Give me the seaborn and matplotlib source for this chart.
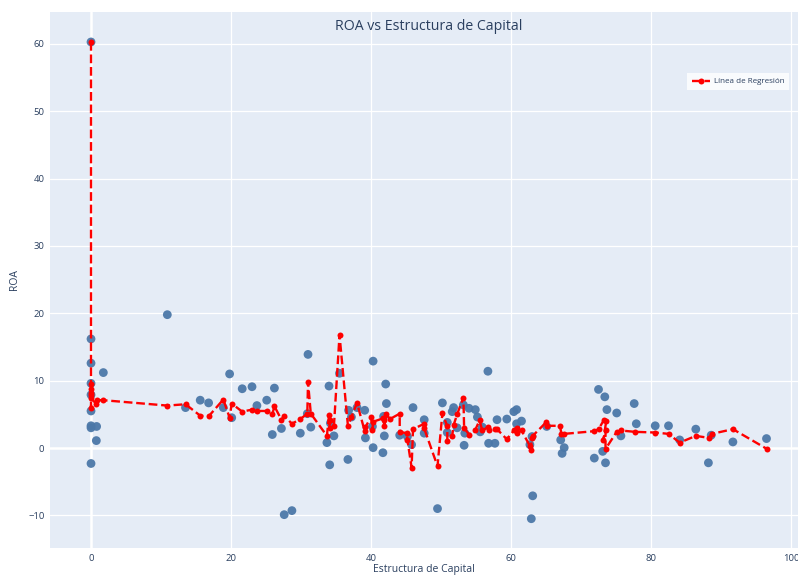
import numpy as np
import pandas as pd
import matplotlib
matplotlib.use("Agg")
import matplotlib.pyplot as plt
import seaborn as sns

# Scatter data (Estructura de Capital, ROA)
cap_pts = [0, 0, 0, 0, 0, 0, 0, 0, 0, 0.8, 0.76, 1.76, 10.9, 13.5, 15.6, 16.8, 18.9, 19.8, 20.1,
           21.6, 23.0, 23.7, 25.1, 26.2, 25.9, 27.2, 27.6, 28.7, 29.9, 31.0, 30.9, 31.4, 33.7, 34.0,
           34.1, 34.2, 34.7, 35.5, 36.7, 36.8, 37.2, 38.0, 39.1, 39.2, 40.3, 40.3, 40.2, 42.1, 42.2,
           41.7, 41.9, 41.8, 44.1, 45.2, 45.8, 46.0, 47.6, 47.6, 49.5, 50.2, 50.9, 50.9, 51.6, 51.8,
           52.3, 53.2, 53.3, 53.4, 54.0, 54.9, 55.2, 55.6, 55.9, 56.7, 56.8, 57.7, 58.0, 59.4, 60.4,
           60.8, 60.8, 61.5, 62.7, 63.1, 62.9, 63.0, 65.1, 67.1, 67.6, 67.3, 71.9, 72.5, 73.4, 73.7,
           73.1, 73.5, 75.1, 75.7, 77.6, 77.9, 80.6, 82.5, 84.1, 86.4, 88.6, 88.2, 91.7, 96.5]
roa_pts = [60.3, 16.2, 12.6, 9.6, 7.9, 5.5, 3.3, 3.0, -2.3, 3.2, 1.1, 11.2, 19.8, 6.0, 7.1, 6.7, 6.0, 11.0, 4.5,
           8.8, 9.1, 6.3, 7.1, 8.9, 2.0, 2.9, -9.9, -9.3, 2.2, 13.9, 5.1, 3.1, 0.8, 9.2,
           -2.5, 3.7, 1.8, 11.1, -1.7, 5.6, 4.6, 6.0, 5.6, 1.5, 12.9, 0.05, 3.2, 9.5, 6.6,
           -0.7, 1.8, 4.7, 1.9, 1.7, 0.5, 6.0, 4.2, 2.2, -9.0, 6.7, 3.8, 2.3, 5.4, 6.0,
           3.0, 6.4, 0.4, 2.2, 5.9, 5.7, 4.6, 2.4, 3.1, 11.4, 0.7, 0.7, 4.2, 4.3, 5.4,
           5.7, 3.6, 4.0, 0.5, -7.1, -10.5, 1.7, 3.2, 1.2, 0.05, -0.8, -1.5, 8.7, 7.6, 5.7,
           -0.5, -2.2, 5.2, 1.8, 6.6, 3.6, 3.3, 3.3, 1.2, 2.8, 1.9, -2.2, 0.9, 1.4]

# Regression line data (in drawing order)
cap_line = [0, 0, 0, 0, 0, 0, 0, 0.7, 0.8, 1.76, 10.9, 13.5, 15.6, 16.8, 18.9, 19.8, 20.1, 21.6, 23.0,
            23.7, 25.1, 25.9, 26.2, 27.2, 27.6, 28.7, 29.9, 30.9, 31.0, 31.4, 33.7, 34.0, 34.1, 34.2,
            34.7, 35.5, 36.7, 37.2, 38.0, 39.1, 39.2, 40.0, 40.2, 40.3, 41.7, 41.8, 41.9, 42.2, 42.7,
            44.1, 44.1, 45.1, 45.2, 45.8, 46.0, 47.6, 47.6, 49.5, 50.2, 50.9, 50.9, 51.6, 51.8, 52.3,
            53.2, 53.3, 54.0, 54.9, 55.5, 55.9, 56.7, 56.8, 57.7, 58.0, 59.4, 60.4, 60.8, 60.8, 61.5,
            62.7, 62.8, 63.0, 63.1, 65.0, 65.2, 67.0, 67.2, 67.6, 71.9, 72.5, 73.3, 73.6, 73.2, 73.5,
            73.5, 75.1, 75.7, 77.7, 80.6, 82.5, 84.1, 86.4, 88.3, 88.7, 91.7, 96.5]
roa_line = [60.3, 9.5, 8.8, 8.2, 7.8, 6.0, 7.4, 6.6, 7.1, 7.1, 6.3, 6.5, 4.8, 4.7, 7.2, 4.5, 6.6, 5.4, 5.7,
            5.5, 5.5, 5.0, 6.2, 4.2, 4.8, 3.6, 4.3, 5.1, 9.8, 5.1, 1.8, 4.9, 3.0, 4.2,
            3.2, 16.8, 3.3, 4.6, 6.7, 2.5, 3.1, 4.6, 2.7, 3.9, 4.4, 4.2, 3.2, 5.0, 4.3,
            5.1, 2.4, 2.2, 1.2, -2.9, 2.8, 3.6, 2.9, -2.7, 5.2, 3.2, 1.1, 1.8, 3.4, 5.0,
            7.5, 3.0, 2.0, 2.7, 4.1, 2.6, 3.1, 2.7, 2.8, 2.8, 1.3, 2.6, 2.9, 2.2, 2.6,
            0.3, -0.3, 1.5, 1.8, 3.8, 3.3, 3.3, 2.1, 2.1, 2.5, 2.8, 4.2, 4.0, 1.2, 2.7,
            -0.15, 2.4, 2.6, 2.4, 2.3, 2.1, 0.8, 1.8, 1.5, 2.1, 2.8, -0.1]

x_ticks = [0, 20, 40, 60, 80, 100]
y_ticks = [-10, 0, 10, 20, 30, 40, 50, 60]

pts = pd.DataFrame({"Estructura de Capital": cap_pts, "ROA": roa_pts})
line = pd.DataFrame({"Estructura de Capital": cap_line, "ROA": roa_line})

sns.set_theme(style="white")
plt.rcParams["font.family"] = ["Open Sans", "DejaVu Sans"]

text_col = "#2a3f5f"
fig = plt.figure(figsize=(7.98, 5.75), dpi=100)
ax = fig.add_axes([50 / 798, 27 / 575, 748 / 798, 536 / 575])
ax.set_facecolor("#E5ECF6")
for s in ax.spines.values():
    s.set_visible(False)

ax.set_xlim(-5.86, 101.0)
ax.set_ylim(-14.85, 64.75)
ax.set_xticks(x_ticks)
ax.set_yticks(y_ticks)
ax.grid(True, color="white", linewidth=0.9)
ax.set_axisbelow(True)
ax.axhline(0, color="white", linewidth=1.8, zorder=0.5)
ax.axvline(0, color="white", linewidth=1.8, zorder=0.5)

sns.scatterplot(data=pts, x="Estructura de Capital", y="ROA", ax=ax, color="#4C78A8",
                s=40, edgecolor="none", alpha=0.95, zorder=3, legend=False)
sns.lineplot(data=line, x="Estructura de Capital", y="ROA", ax=ax, sort=False, color="red",
             linestyle="--", linewidth=1.7, marker="o", markersize=4.3, markeredgewidth=0,
             label="Línea de Regresión", zorder=4, estimator=None)

ax.tick_params(axis="both", length=0, labelsize=6.8, labelcolor=text_col, pad=4)
ax.set_xlabel("Estructura de Capital", fontsize=7.5, color=text_col, labelpad=1)
ax.set_ylabel("ROA", fontsize=7.5, color=text_col, labelpad=6)

leg = ax.legend(loc="upper right", bbox_to_anchor=(0.994, 0.893), frameon=True, fancybox=False,
                fontsize=5.8, handlelength=2.2, borderpad=0.55, handletextpad=0.6, labelcolor=text_col)
leg.get_frame().set_facecolor("white")
leg.get_frame().set_edgecolor("white")
leg.get_frame().set_linewidth(0)

fig.text(429 / 798, 1 - 27 / 575, "ROA vs Estructura de Capital", ha="center", va="center",
         fontsize=10.2, color=text_col)

fig.savefig("out.png", dpi=100)
